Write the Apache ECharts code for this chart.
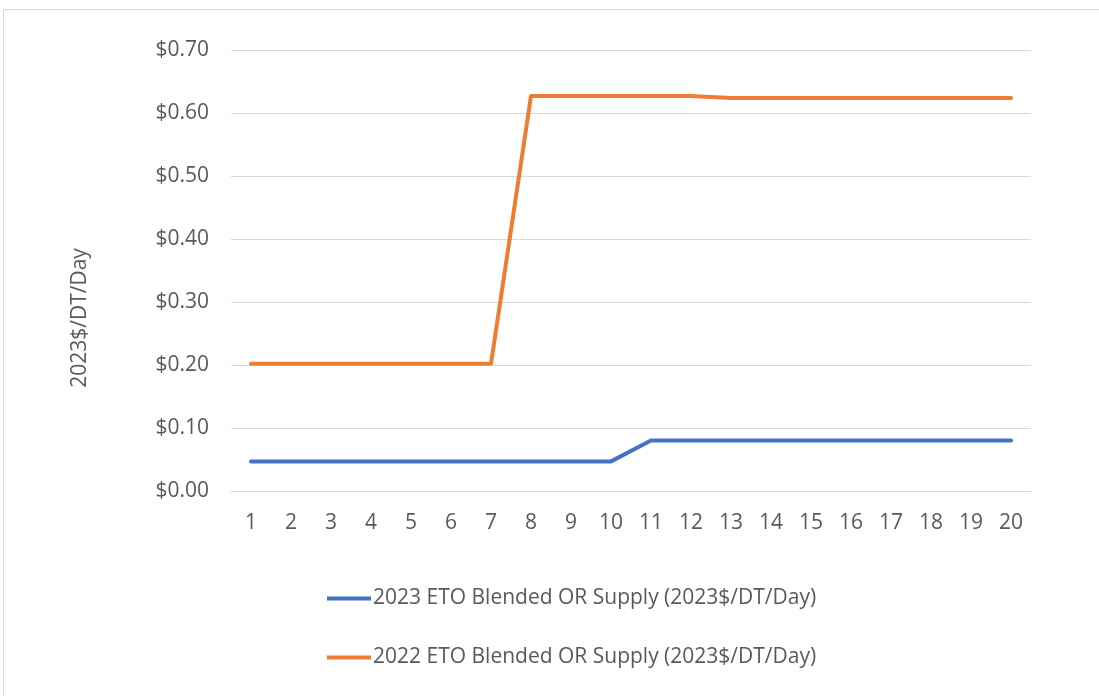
<!DOCTYPE html>
<html>
<head>
<meta charset="utf-8">
<script src="https://cdn.jsdelivr.net/npm/echarts@6/dist/echarts.min.js"></script>
<style>
html,body{margin:0;padding:0;background:#fff;}
#c{width:1099px;height:696px;}
</style>
</head>
<body>
<div id="c"></div>
<script>
const categories = ['1','2','3','4','5','6','7','8','9','10','11','12','13','14','15','16','17','18','19','20'];
const series2023Name = '2023 ETO Blended OR Supply (2023$/DT/Day)';
const series2022Name = '2022 ETO Blended OR Supply (2023$/DT/Day)';
const values2023 = [0.047,0.047,0.047,0.047,0.047,0.047,0.047,0.047,0.047,0.047,0.080,0.080,0.080,0.080,0.080,0.080,0.080,0.080,0.080,0.080];
const values2022 = [0.202,0.202,0.202,0.202,0.202,0.202,0.202,0.627,0.627,0.627,0.627,0.627,0.624,0.624,0.624,0.624,0.624,0.624,0.624,0.624];
const yTicks = { min: 0, max: 0.7, interval: 0.1 };
const yAxisTitle = '2023$/DT/Day';

const font = 'Open Sans, Liberation Sans, sans-serif';
const fs = 21;
const chart = echarts.init(document.getElementById('c'), null, {renderer:'canvas'});
chart.setOption({
  animation: false,
  backgroundColor: '#fff',
  grid: { left: 231, right: 68, top: 50, bottom: 205, containLabel: false },
  graphic: [
    { type: 'rect', shape: { x: 3.5, y: 9.5, width: 1200, height: 800 },
      style: { fill: 'none', stroke: '#d9d9d9', lineWidth: 1 }, silent: true },
    { type: 'text', x: 80, y: 318, rotation: Math.PI/2,
      style: { text: yAxisTitle, fill: '#595959', font: fs + 'px ' + font, align: 'center', verticalAlign: 'middle' } }
  ],
  legend: {
    orient: 'vertical', left: 322, top: 583, itemGap: 38,
    itemWidth: 44, itemHeight: 4,
    icon: 'rect',
    textStyle: { color: '#595959', fontSize: fs, fontFamily: font, padding: [0,0,0,-3] },
    data: [
      { name: series2023Name, itemStyle: { color: '#4472C4' } },
      { name: series2022Name, itemStyle: { color: '#ED7D31' } }
    ]
  },
  xAxis: {
    type: 'category', data: categories, boundaryGap: true,
    axisLine: { lineStyle: { color: '#d9d9d9', width: 1 } },
    axisTick: { show: false },
    axisLabel: { color: '#595959', fontSize: fs, fontFamily: font, margin: 22 }
  },
  yAxis: {
    type: 'value', min: yTicks.min, max: yTicks.max, interval: yTicks.interval,
    axisLine: { show: false }, axisTick: { show: false },
    splitLine: { lineStyle: { color: '#d9d9d9', width: 1 } },
    axisLabel: { color: '#595959', fontSize: fs, fontFamily: font, margin: 22,
      formatter: v => '$' + v.toFixed(2) }
  },
  series: [
    { name: series2023Name, type: 'line', data: values2023, symbol: 'none',
      lineStyle: { color: '#4472C4', width: 4, cap: 'round', join: 'round' }, itemStyle: { color: '#4472C4' } },
    { name: series2022Name, type: 'line', data: values2022, symbol: 'none',
      lineStyle: { color: '#ED7D31', width: 4, cap: 'round', join: 'round' }, itemStyle: { color: '#ED7D31' } }
  ]
});
</script>
</body>
</html>
